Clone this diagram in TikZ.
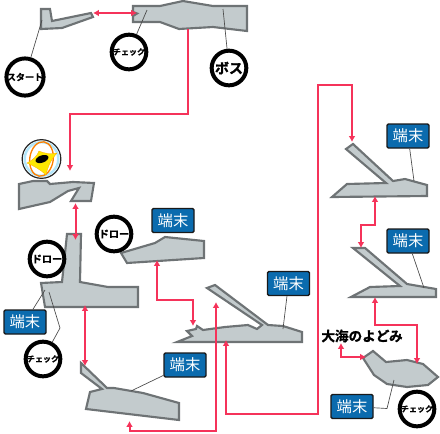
\documentclass[tikz,border=0pt]{standalone}
\usepackage{fontspec}
\usepackage{xcolor}
\usepackage{tikz}
\usetikzlibrary{arrows.meta,calc}
\setmainfont{Noto Sans CJK JP}
\newfontfamily\heavyfont{Noto Sans CJK JP Bold}[FakeBold=1.2]
\definecolor{floorgray}{HTML}{C3CBCD}
\definecolor{edgegray}{HTML}{6E7375}
\definecolor{routered}{HTML}{F5335A}
\definecolor{tagblue}{HTML}{0B6BAE}
\definecolor{leadgray}{HTML}{4A4A4A}

\begin{document}
\begin{tikzpicture}[
  x=0.75pt,y=-0.75pt,
  floor/.style={draw=edgegray,fill=floorgray,line width=1.6pt,line join=miter},
  route/.style={{Latex[length=4.4pt,width=5pt]}-{Latex[length=4.4pt,width=5pt]},routered,line width=1.5pt},
  oneway/.style={-{Latex[length=4.4pt,width=5pt]},routered,line width=1.5pt},
  lead/.style={leadgray,line width=0.5pt},
  tag/.style={draw=black!90,fill=tagblue,rounded corners=1pt,line width=1.1pt,minimum width=31.5pt,
              minimum height=18pt,inner sep=0pt,text=white,font=\fontsize{11.5}{12}\selectfont},
  badge/.style={circle,draw=black,fill=white,line width=3pt,minimum size=26pt,inner sep=0pt,
                font=\heavyfont\fontsize{#1}{#1}\selectfont}
]
\useasboundingbox (0,0) rectangle (440,433);

\draw[floor] (41,9) -- (50,9) -- (52,21) -- (91,13) -- (93,17) -- (62,28) -- (41,29) -- cycle;
\draw[floor] (133,6) -- (160,6) -- (183,1) -- (213,6) -- (247,6) -- (247,31) -- (213,27) -- (179,29)
  -- (160,22) -- (133,22) -- (133,16) -- (137,13.5) -- (133,12) -- cycle;
\draw[floor] (19,184) -- (33,181) -- (47,181) -- (50,184) -- (73,182) -- (94,183) -- (91,201) -- (71,201)
  -- (79,188) -- (68,191) -- (50,202) -- (19,209) -- cycle;
\draw[floor] (67,234) -- (81,234) -- (80,282) -- (108,287) -- (138,287) -- (138,307) -- (45,307) -- (41,283)
  -- (62,282) -- cycle;
\draw[floor] (121,253) -- (155,243) -- (165,237) -- (204,241) -- (204,258) -- (127,263) -- cycle;
\draw[floor] (81,363) -- (107,388) -- (114,388) -- (143,393) -- (179,403) -- (179,420) -- (86,409) -- (90,392)
  -- (102,389) -- (81,373) -- cycle;
\draw[floor] (207,288) -- (215,285) -- (268,325) -- (283,326) -- (302,332) -- (302,342) -- (177,342) -- (192,336)
  -- (187,331) -- (196,329) -- (197,326) -- (203,330) -- (225,327) -- (248,325) -- (257,329) -- (262,325) -- cycle;
\draw[floor] (346,149) -- (353,144) -- (393,181) -- (405,179) -- (427,185) -- (427,196) -- (332,197) -- (347,184)
  -- (386,183) -- cycle;
\draw[floor] (353,248) -- (365,248) -- (407,284) -- (436,289) -- (436,297) -- (351,297) -- (370,287) -- (400,286) -- cycle;
\draw[floor] (363,358) -- (373,351) -- (386,362) -- (407,360) -- (423,364) -- (438,377) -- (428,385) -- (407,387)
  -- (387,384) -- (374,375) -- cycle;

\coordinate (startdoor) at (93,13);
\coordinate (bossdoor) at (137,13);
\coordinate (bossexit) at (187.5,29);
\coordinate (gatedoor) at (70,171);
\coordinate (gateexit) at (75.5,203);
\coordinate (crossdoor) at (75.5,240);
\coordinate (crossexit) at (85,305);
\coordinate (slopedoor) at (85,366);
\coordinate (shelfexit) at (157,260);
\coordinate (rampdoor) at (193,326);
\coordinate (slopeexit) at (129.5,421);
\coordinate (rampback) at (216,302);
\coordinate (rampexit) at (226,340);
\coordinate (upperdoor) at (352,142);
\coordinate (upperexit) at (375,196);
\coordinate (lowerdoor) at (361,248);
\coordinate (lowerexit) at (375,297);
\coordinate (pooldoor) at (417,364);
\coordinate (poolside) at (366,357);
\coordinate (labelfoot) at (341,343);

\draw[route] (startdoor) -- (bossdoor);
\draw[oneway] (bossexit) |- (129,114) -| (gatedoor);
\draw[route] (gateexit) -- (crossdoor);
\draw[route] (crossexit) -- (slopedoor);
\draw[route] (shelfexit) |- (175,300) -| (rampdoor);
\draw[route] (slopeexit) |- (170,430.5) -| (rampback);
\draw[route] (rampexit) |- (270,414) -- (318,414) |- (335,85) -| (upperdoor);
\draw[route] (upperexit) |- (368,225) -| (lowerdoor);
\draw[route] (lowerexit) |- (396,325) -| (pooldoor);
\draw[route] (poolside) -| (labelfoot);

\node[badge=6.8] (start) at (25,77) {スタート};
\node[badge=6] (check1) at (129,52) {チェック};
\node[badge=10.5] (boss) at (229,68) {ボス};
\node[badge=7.6] (draw1) at (114,234) {ドロー};
\node[badge=7.6] (draw2) at (47,259) {ドロー};
\node[badge=6] (check2) at (43,359) {チェック};
\node[badge=6] (check3) at (417,409) {チェック};

\node[tag] (tag1) at (173,220.5) {端末};
\node[tag] (tag2) at (25,322) {端末};
\node[tag] (tag3) at (185,365) {端末};
\node[tag] (tag4) at (288.5,283.5) {端末};
\node[tag] (tag5) at (408,136) {端末};
\node[tag] (tag6) at (408,241) {端末};
\node[tag] (tag7) at (352,406.5) {端末};

\coordinate (startfoot) at (42,20);
\coordinate (check1foot) at (147,10);
\coordinate (bossfoot) at (223,9);
\coordinate (tag2foot) at (45,290);
\coordinate (check2foot) at (49,292);
\coordinate (check2bend) at (60,328);
\coordinate (tag3foot) at (131,391);
\coordinate (tag4foot) at (283,329);
\coordinate (tag5foot) at (414,181);
\coordinate (tag6foot) at (424,288);
\coordinate (tag7bend) at (387,408.5);
\coordinate (tag7foot) at (394,380);

\draw[lead] (start) -- (startfoot);
\draw[lead] (check1) -- (check1foot);
\draw[lead] (boss) -- (bossfoot);
\draw[lead] (tag2) -- (tag2foot);
\draw[lead] (check2) -- (check2bend) -- (check2foot);
\draw[lead] (tag3) -- (tag3foot);
\draw[lead] (tag4) -- (tag4foot);
\draw[lead] (tag5) -- (tag5foot);
\draw[lead] (tag6) -- (tag6foot);
\draw[lead] (tag7) -- (tag7bend) -- (tag7foot);

\node[circle,draw=black!85,fill=white,line width=0.9pt,minimum size=29pt,inner sep=0pt] (emblem) at (41.5,159) {};
\draw[cyan!30,line width=1.8pt] (emblem) circle (12.6pt);
\draw[orange,line width=1pt,rotate around={-8:(41.5,159)}] (41.5,159) ellipse (8.8pt and 13pt);
\fill[yellow!90!orange,draw=orange!70!yellow,line width=0.2pt] (27,163) .. controls (33,160) and (37,156) .. (39,151)
  .. controls (46,154) and (51,154) .. (57,153) .. controls (51,160) and (48,166) .. (46,175)
  .. controls (41,170) and (34,166) .. cycle;
\fill[black,rotate around={20:(42,159)}] (42,159) ellipse (5pt and 2.7pt);

\node[font=\heavyfont\fontsize{10.2}{11}\selectfont] (pool) at (362,336) {大海のよどみ};
\end{tikzpicture}
\end{document}
